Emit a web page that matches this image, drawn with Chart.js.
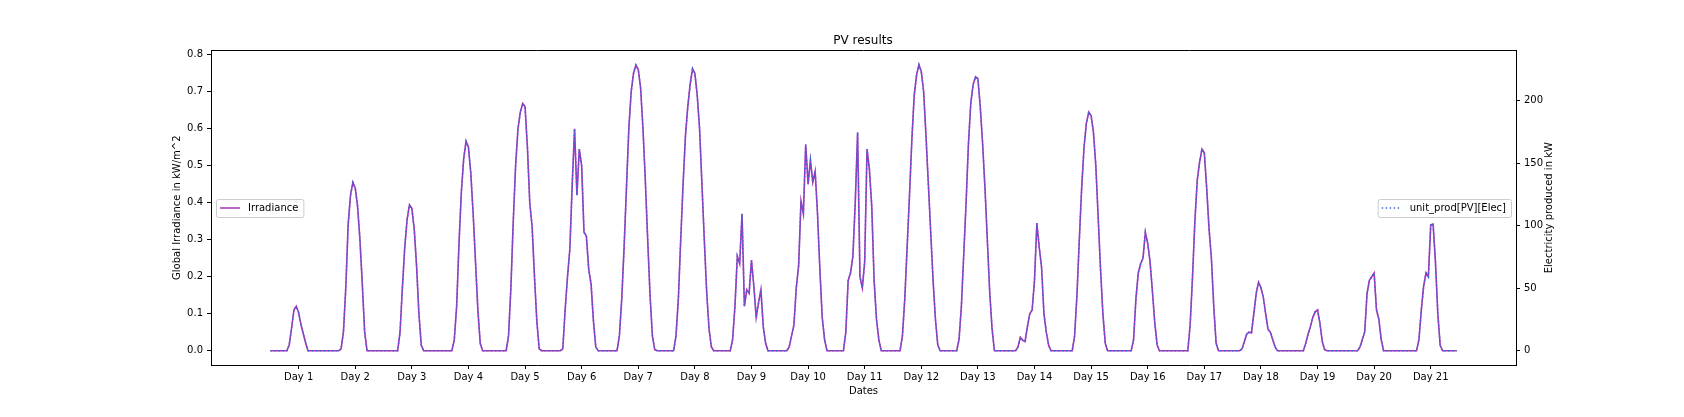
<!DOCTYPE html>
<html>
<head>
<meta charset="utf-8">
<title>PV results</title>
<script src="https://cdn.jsdelivr.net/npm/chart.js@4.4.1/dist/chart.umd.min.js"></script>
<style>
    html, body { margin: 0; padding: 0; background: #ffffff; overflow: hidden; }
    #wrap { width: 1684px; height: 417px; }
</style>
</head>
<body>
<div id="wrap"><canvas id="pvChart" width="1684" height="417"></canvas></div>
<script>

// hourly values, one row per day (24 hours)
const irradiance = [
    0,0,0,0,0,0,0,0, 0.015,0.06,0.11,0.12,0.103,0.07,0.045,0.02, 0,0,0,0,0,0,0,0,
    0,0,0,0,0,0, 0.005,0.05,0.17,0.34,0.42,0.455,0.44,0.39,0.3,0.18,0.05,0, 0,0,0,0,0,0,
    0,0,0,0,0,0, 0,0.05,0.17,0.28,0.355,0.394,0.385,0.33,0.23,0.1,0.015,0, 0,0,0,0,0,0,
    0,0,0,0,0,0, 0.03,0.12,0.29,0.43,0.52,0.566,0.55,0.48,0.37,0.24,0.11,0.02, 0,0,0,0,0,0,
    0,0,0,0,0, 0.04,0.17,0.35,0.5,0.6,0.645,0.668,0.66,0.55,0.4,0.335,0.2,0.08,0.005, 0,0,0,0,0,
    0,0,0,0, 0.005,0.11,0.2,0.275,0.45,0.6,0.42,0.545,0.5,0.32,0.31,0.22,0.18,0.08,0.01, 0,0,0,0,0,
    0,0,0,0, 0.04,0.14,0.28,0.44,0.6,0.7,0.75,0.772,0.76,0.71,0.6,0.46,0.3,0.15,0.04,0.003, 0,0,0,0,
    0,0,0,0, 0.04,0.14,0.3,0.45,0.58,0.66,0.72,0.762,0.75,0.69,0.6,0.45,0.3,0.16,0.06,0.01, 0,0,0,0,
    0,0,0,0, 0.03,0.12,0.255,0.235,0.37,0.12,0.165,0.155,0.245,0.175,0.09,0.13,0.165,0.065,0.02, 0,0,0,0,0,
    0,0,0,0, 0.01,0.04,0.07,0.17,0.23,0.405,0.37,0.557,0.45,0.515,0.455,0.485,0.37,0.22,0.09,0.03, 0,0,0,0,
    0,0,0,0, 0.05,0.19,0.21,0.255,0.4,0.59,0.2,0.17,0.24,0.545,0.49,0.39,0.19,0.085,0.03, 0,0,0,0,0,
    0,0,0,0, 0.04,0.14,0.28,0.42,0.57,0.69,0.745,0.773,0.755,0.7,0.58,0.45,0.32,0.19,0.085,0.015, 0,0,0,0,
    0,0,0,0, 0.03,0.12,0.26,0.4,0.56,0.67,0.72,0.74,0.735,0.66,0.56,0.44,0.3,0.16,0.06, 0,0,0,0,0,
    0,0,0,0,0, 0.01,0.036,0.028,0.025,0.065,0.1,0.11,0.19,0.345,0.28,0.225,0.1,0.05,0.015, 0,0,0,0,0,
    0,0,0,0,0, 0.04,0.15,0.3,0.44,0.55,0.615,0.645,0.635,0.59,0.5,0.36,0.22,0.1,0.02, 0,0,0,0,0,
    0,0,0,0,0,0, 0.03,0.14,0.21,0.235,0.25,0.32,0.29,0.24,0.16,0.075,0.015, 0,0,0,0,0,0,0,
    0,0,0,0,0,0, 0.07,0.2,0.35,0.46,0.51,0.545,0.535,0.44,0.33,0.25,0.12,0.02, 0,0,0,0,0,0,
    0,0,0,0, 0.005,0.025,0.045,0.05,0.048,0.1,0.155,0.185,0.17,0.145,0.1,0.058,0.05,0.03,0.01, 0,0,0,0,0,
    0,0,0,0,0,0,0, 0.02,0.045,0.065,0.09,0.105,0.11,0.075,0.025,0.003, 0,0,0,0,0,0,0,0,
    0,0,0,0,0,0, 0.01,0.03,0.05,0.155,0.19,0.2,0.21,0.11,0.085,0.03, 0,0,0,0,0,0,0,0,
    0,0,0,0,0,0,0, 0.03,0.11,0.175,0.21,0.2,0.34,0.342,0.24,0.1,0.015, 0,0,0,0,0,0,0
];

// kW, same hours
const elecProd = [
    0,0,0,0,0,0,0,0, 4.4,17.8,32.6,35.5,30.5,20.7,13.3,5.9, 0,0,0,0,0,0,0,0,
    0,0,0,0,0,0, 1.5,14.8,50.3,100.6,124.3,134.7,130.2,115.4,88.8,53.3,14.8,0, 0,0,0,0,0,0,
    0,0,0,0,0,0, 0,14.8,50.3,82.9,105.1,116.6,114.0,97.7,68.1,29.6,4.4,0, 0,0,0,0,0,0,
    0,0,0,0,0,0, 8.9,35.5,85.8,127.3,153.9,167.5,162.8,142.1,109.5,71.0,32.6,5.9, 0,0,0,0,0,0,
    0,0,0,0,0, 11.8,50.3,103.6,148.0,177.6,190.9,197.7,195.4,162.8,118.4,99.2,59.2,23.7,1.5, 0,0,0,0,0,
    0,0,0,0, 1.5,32.6,59.2,81.4,133.2,177.6,124.3,161.3,148.0,94.7,91.8,65.1,53.3,23.7,3.0, 0,0,0,0,0,
    0,0,0,0, 11.8,41.4,82.9,130.2,177.6,207.2,222.0,228.5,225.0,210.2,177.6,136.2,88.8,44.4,11.8,0.9, 0,0,0,0,
    0,0,0,0, 11.8,41.4,88.8,133.2,171.7,195.4,213.1,225.6,222.0,204.2,177.6,133.2,88.8,47.4,17.8,3.0, 0,0,0,0,
    0,0,0,0, 8.9,35.5,75.5,69.6,109.5,35.5,48.8,45.9,72.5,51.8,26.6,38.5,48.8,19.2,5.9, 0,0,0,0,0,
    0,0,0,0, 3.0,11.8,20.7,50.3,68.1,119.9,109.5,164.9,133.2,152.4,134.7,143.6,109.5,65.1,26.6,8.9, 0,0,0,0,
    0,0,0,0, 14.8,56.2,62.2,75.5,118.4,174.6,59.2,50.3,71.0,161.3,145.0,115.4,56.2,25.2,8.9, 0,0,0,0,0,
    0,0,0,0, 11.8,41.4,82.9,124.3,168.7,204.2,220.5,228.8,223.5,207.2,171.7,133.2,94.7,56.2,25.2,4.4, 0,0,0,0,
    0,0,0,0, 8.9,35.5,77.0,118.4,165.8,198.3,213.1,219.0,217.6,195.4,165.8,130.2,88.8,47.4,17.8, 0,0,0,0,0,
    0,0,0,0,0, 3.0,10.7,8.3,7.4,19.2,29.6,32.6,56.2,102.1,82.9,66.6,29.6,14.8,4.4, 0,0,0,0,0,
    0,0,0,0,0, 11.8,44.4,88.8,130.2,162.8,182.0,190.9,188.0,174.6,148.0,106.6,65.1,29.6,5.9, 0,0,0,0,0,
    0,0,0,0,0,0, 8.9,41.4,62.2,69.6,74.0,94.7,85.8,71.0,47.4,22.2,4.4, 0,0,0,0,0,0,0,
    0,0,0,0,0,0, 20.7,59.2,103.6,136.2,151.0,161.3,158.4,130.2,97.7,74.0,35.5,5.9, 0,0,0,0,0,0,
    0,0,0,0, 1.5,7.4,13.3,14.8,14.2,29.6,45.9,54.8,50.3,42.9,29.6,17.2,14.8,8.9,3.0, 0,0,0,0,0,
    0,0,0,0,0,0,0, 5.9,13.3,19.2,26.6,31.1,32.6,22.2,7.4,0.9, 0,0,0,0,0,0,0,0,
    0,0,0,0,0,0, 3.0,8.9,14.8,45.9,56.2,59.2,62.2,32.6,25.2,8.9, 0,0,0,0,0,0,0,0,
    0,0,0,0,0,0,0, 8.9,32.6,51.8,62.2,59.2,100.6,101.2,71.0,29.6,4.4, 0,0,0,0,0,0,0
];

const dayTicks = [12, 36, 60, 84, 108, 132, 156, 180, 204, 228, 252,
                  276, 300, 324, 348, 372, 396, 420, 444, 468, 492];
const dayLabels = ['Day 1', 'Day 2', 'Day 3', 'Day 4', 'Day 5', 'Day 6', 'Day 7',
                   'Day 8', 'Day 9', 'Day 10', 'Day 11', 'Day 12', 'Day 13', 'Day 14',
                   'Day 15', 'Day 16', 'Day 17', 'Day 18', 'Day 19', 'Day 20', 'Day 21'];

const leftTicks = [0, 0.1, 0.2, 0.3, 0.4, 0.5, 0.6, 0.7, 0.8];
const leftTickLabels = ['0.0', '0.1', '0.2', '0.3', '0.4', '0.5', '0.6', '0.7', '0.8'];
const rightTicks = [0, 50, 100, 150, 200];
const rightTickLabels = ['0', '50', '100', '150', '200'];

const irrColor = '#a832b0';
const elecColor = '#4169e1';
const FONT = 'DejaVu Sans';

// matplotlib style 5% margins
function margins(values) {
    const lo = Math.min(...values);
    const hi = Math.max(...values);
    const pad = (hi - lo) * 0.05;
    return { min: lo - pad, max: hi + pad };
}

const xRange = margins([0, irradiance.length - 1]);
const irrRange = margins(irradiance);
const elecRange = margins(elecProd);

const irrPoints = irradiance.map((v, i) => ({ x: i, y: v }));
const elecPoints = elecProd.map((v, i) => ({ x: i, y: v }));

function drawLegendBox(ctx, left, midY, label, color, dash) {

    ctx.save();
    ctx.font = '10px "' + FONT + '"';

    const w = 4 + 20 + 8 + ctx.measureText(label).width + 5;
    const h = 18;
    const top = midY - h / 2;

    ctx.beginPath();
    ctx.roundRect(left + 0.5, top + 0.5, w, h, 2);
    ctx.fillStyle = 'rgba(255,255,255,0.8)';
    ctx.fill();
    ctx.strokeStyle = '#cccccc';
    ctx.lineWidth = 1;
    ctx.stroke();

    ctx.beginPath();
    ctx.setLineDash(dash);
    ctx.strokeStyle = color;
    ctx.lineWidth = 1.5;
    ctx.moveTo(left + 4, midY);
    ctx.lineTo(left + 24, midY);
    ctx.stroke();
    ctx.setLineDash([]);

    ctx.fillStyle = '#000000';
    ctx.textBaseline = 'middle';
    ctx.textAlign = 'left';
    ctx.fillText(label, left + 32, midY + 0.5);
    ctx.restore();
}

const framePlugin = {
    id: 'frameAndLegends',
    afterDraw(chart) {

        const ctx = chart.ctx;
        const a = chart.chartArea;

        // top spine
        ctx.save();
        ctx.strokeStyle = '#000000';
        ctx.lineWidth = 1;
        ctx.beginPath();
        ctx.moveTo(a.left, Math.round(a.top) + 0.5);
        ctx.lineTo(a.right, Math.round(a.top) + 0.5);
        ctx.stroke();
        ctx.restore();

        const midY = Math.round((a.top + a.bottom) / 2);

        // right axis title, reading upwards like the left one
        ctx.save();
        ctx.font = '10px "' + FONT + '"';
        ctx.fillStyle = '#000000';
        ctx.textAlign = 'center';
        ctx.textBaseline = 'middle';
        ctx.translate(a.right + 33, (a.top + a.bottom) / 2);
        ctx.rotate(-Math.PI / 2);
        ctx.fillText('Electricity produced in kW', 0, 0);
        ctx.restore();

        drawLegendBox(ctx, a.left + 5, midY, 'Irradiance', irrColor, []);

        ctx.save();
        ctx.font = '10px "' + FONT + '"';
        const rw = 4 + 20 + 8 + ctx.measureText('unit_prod[PV][Elec]').width + 5;
        ctx.restore();
        drawLegendBox(ctx, a.right - 5 - rw, midY, 'unit_prod[PV][Elec]', elecColor, [1.5, 2.5]);
    }
};

const tickFont = { family: FONT, size: 10 };

new Chart(document.getElementById('pvChart'), {

    type: 'line',

    data: {
        datasets: [
            {
                label: 'unit_prod[PV][Elec]',
                data: elecPoints,
                yAxisID: 'y2',
                borderColor: elecColor,
                borderWidth: 1.5,
                borderDash: [1.5, 2.5],
                pointRadius: 0,
                tension: 0,
                fill: false,
                order: 0
            },
            {
                label: 'Irradiance',
                data: irrPoints,
                yAxisID: 'y',
                borderColor: irrColor,
                borderWidth: 1.6,
                pointRadius: 0,
                tension: 0,
                fill: false,
                order: 1
            }
        ]
    },

    options: {
        responsive: false,
        animation: false,
        devicePixelRatio: 1,

        layout: {
            padding: { left: 167, right: 125, top: 25, bottom: 17 }
        },

        plugins: {
            legend: { display: false },
            tooltip: { enabled: false },
            title: {
                display: true,
                text: 'PV results',
                color: '#000000',
                font: { family: FONT, size: 12, weight: 'normal' },
                padding: { top: 9, bottom: 2 }
            }
        },

        scales: {

            x: {
                type: 'linear',
                position: 'bottom',
                min: xRange.min,
                max: xRange.max,
                afterBuildTicks: s => { s.ticks = dayTicks.map(v => ({ value: v })); },
                afterFit: s => { s.height = 35; },
                ticks: {
                    autoSkip: false,
                    maxRotation: 0,
                    color: '#000000',
                    font: tickFont,
                    padding: 2,
                    callback: (v, i) => dayLabels[i]
                },
                grid: {
                    drawOnChartArea: false,
                    tickLength: 4,
                    color: '#000000'
                },
                border: { display: true, color: '#000000', width: 1 },
                title: {
                    display: true,
                    text: 'Dates',
                    color: '#000000',
                    font: tickFont,
                    padding: { top: 4, bottom: 3 }
                }
            },

            y: {
                type: 'linear',
                position: 'left',
                min: irrRange.min,
                max: irrRange.max,
                afterBuildTicks: s => { s.ticks = leftTicks.map(v => ({ value: v })); },
                afterFit: s => { s.width = 44; },
                ticks: {
                    color: '#000000',
                    font: tickFont,
                    padding: 4,
                    callback: (v, i) => leftTickLabels[i]
                },
                grid: {
                    drawOnChartArea: false,
                    tickLength: 4,
                    color: '#000000'
                },
                border: { display: true, color: '#000000', width: 1 },
                title: {
                    display: true,
                    text: 'Global Irradiance in kW/m^2',
                    color: '#000000',
                    font: tickFont,
                    padding: { top: 4, bottom: 4 }
                }
            },

            y2: {
                type: 'linear',
                position: 'right',
                min: elecRange.min,
                max: elecRange.max,
                afterBuildTicks: s => { s.ticks = rightTicks.map(v => ({ value: v })); },
                afterFit: s => { s.width = 43; },
                ticks: {
                    color: '#000000',
                    font: tickFont,
                    padding: 4,
                    callback: (v, i) => rightTickLabels[i]
                },
                grid: {
                    drawOnChartArea: false,
                    tickLength: 4,
                    color: '#000000'
                },
                border: { display: true, color: '#000000', width: 1 }
            }
        }
    },

    plugins: [framePlugin]
});

</script>
</body>
</html>
